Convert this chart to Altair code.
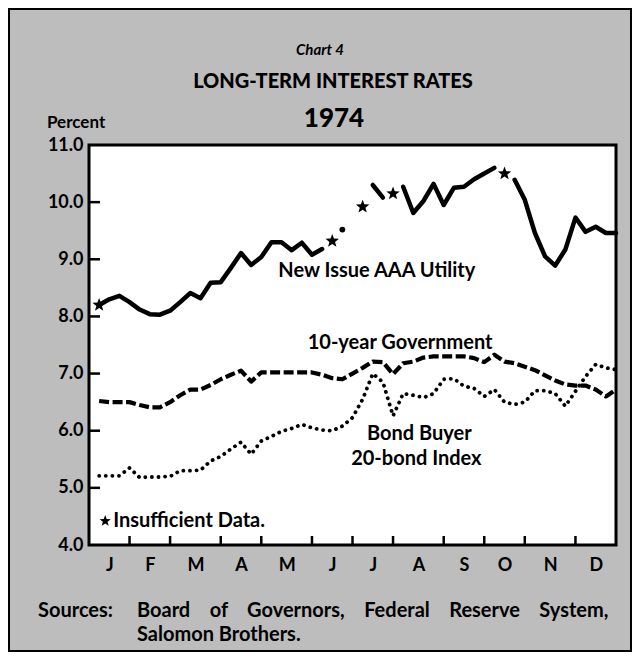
import math
import altair as alt
import pandas as pd

# ---------------- data (weekly, 1974; week 1 = Jan 4 ... week 52 = Dec 27) ----------------
weeks = list(range(1, 53))

aaa_utility = [8.20, 8.30, 8.36, 8.25, 8.12, 8.04, 8.03, 8.10, 8.25, 8.41, 8.32, 8.59, 8.60,
               8.85, 9.11, 8.90, 9.04, 9.30, 9.30, 9.16, 9.29, 9.08, 9.18,
               None, None, None, None, 10.30, 10.08, None,
               10.27, 9.81, 10.02, 10.32, 9.95, 10.25, 10.27, 10.40, 10.50, 10.60, None,
               10.39, 10.04, 9.46, 9.05, 8.89, 9.17, 9.73, 9.48, 9.57, 9.46, 9.46]

gov_10yr = [6.52, 6.50, 6.50, 6.50, 6.45, 6.41, 6.41, 6.50, 6.62, 6.72, 6.72, 6.80, 6.90,
            6.98, 7.05, 6.86, 7.02, 7.02, 7.02, 7.02, 7.02, 7.02, 6.98, 6.92, 6.90, 7.00,
            7.10, 7.21, 7.20, 6.99, 7.18, 7.21, 7.28, 7.30, 7.30, 7.30, 7.30, 7.27, 7.20,
            7.33, 7.21, 7.18, 7.12, 7.06, 6.97, 6.88, 6.81, 6.79, 6.79, 6.72, 6.60, 6.72]

bond_buyer = [5.21, 5.21, 5.21, 5.35, 5.18, 5.19, 5.19, 5.20, 5.30, 5.30, 5.31, 5.47, 5.55,
              5.68, 5.80, 5.59, 5.82, 5.90, 5.99, 6.04, 6.11, 6.05, 6.01, 6.00, 6.08, 6.23,
              6.55, 7.00, 6.85, 6.26, 6.65, 6.62, 6.58, 6.65, 6.90, 6.91, 6.78, 6.74, 6.60,
              6.72, 6.50, 6.46, 6.50, 6.70, 6.70, 6.65, 6.43, 6.69, 6.95, 7.16, 7.10, 7.07]

star_weeks = [1, 24, 27, 30, 41]
star_values = [8.20, 9.32, 9.92, 10.15, 10.50]
dot_weeks = [25]
dot_values = [9.52]

month_letters = ["J", "F", "M", "A", "M", "J", "J", "A", "S", "O", "N", "D"]
month_bounds = [0, 4, 8, 13, 17, 22, 26, 30, 35, 39, 43, 48, 52]
y_ticks = [4, 5, 6, 7, 8, 9, 10, 11]

ann_text = ["New Issue AAA Utility", "10-year Government", "Bond Buyer", "20-bond Index"]
ann_week = [28.4, 30.7, 32.6, 32.3]
ann_rate = [8.79, 7.53, 5.95, 5.50]

legend_week = [1.6]
legend_rate = [4.42]
legend_text = ["Insufficient Data."]

# ---------------- derived tables ----------------
aaa_rows, seg = [], 0
for w, v in zip(weeks, aaa_utility):
    if v is None:
        seg += 1
        continue
    aaa_rows.append({"week": w, "rate": v, "seg": seg})
aaa_df = pd.DataFrame(aaa_rows)
gov_df = pd.DataFrame({"week": weeks, "rate": gov_10yr})
bb_df = pd.DataFrame({"week": weeks, "rate": bond_buyer})
star_df = pd.DataFrame({"week": star_weeks, "rate": star_values})
dot_df = pd.DataFrame({"week": dot_weeks, "rate": dot_values})
ann_df = pd.DataFrame({"week": ann_week, "rate": ann_rate, "label": ann_text})
legend_df = pd.DataFrame({"week": legend_week, "rate": legend_rate, "label": legend_text})

mids = [(a + b) / 2 for a, b in zip(month_bounds[:-1], month_bounds[1:])]
inner = month_bounds[1:-1]
xtick_df = pd.DataFrame({"week": inner})
ytick_df = pd.DataFrame({"rate": y_ticks[1:-1]})

mids_js = "[" + ",".join(repr(float(m)) for m in mids) + "]"
letters_js = "[" + ",".join("'" + l + "'" for l in month_letters) + "]"
label_expr = f"indexof({mids_js}, datum.value) >= 0 ? {letters_js}[indexof({mids_js}, datum.value)] : ''"

# five-pointed star symbol path in the [-1, 1] box
pts = []
for k in range(10):
    r = 1.0 if k % 2 == 0 else 0.42
    a = math.radians(-90 + 36 * k)
    pts.append(f"{r * math.cos(a):.3f},{r * math.sin(a):.3f}")
STAR = "M" + " L".join(pts) + " Z"

FONT = "Lato"
W, H = 527, 400

x_scale = alt.Scale(domain=[0, 52], nice=False, zero=False)
y_scale = alt.Scale(domain=[4, 11], nice=False, zero=False)

x_axis = alt.Axis(values=mids, labelExpr=label_expr, title=None, grid=False, domain=False,
                  ticks=False, labelPadding=11, labelFont=FONT, labelFontSize=18,
                  labelFontWeight="bold", labelColor="black", labelOverlap=False, labelFlush=False)
y_axis = alt.Axis(values=y_ticks, format=".1f", title=None, grid=False, domain=False,
                  ticks=False, labelPadding=6, labelFont=FONT, labelFontSize=18,
                  labelFontWeight="bold", labelColor="black", labelBaseline="middle")

X = alt.X("week:Q", scale=x_scale, axis=x_axis)
Y = alt.Y("rate:Q", scale=y_scale, axis=y_axis)

aaa_line = alt.Chart(aaa_df).mark_line(color="black", strokeWidth=4.5, strokeCap="round",
                                       strokeJoin="round").encode(x=X, y=Y, detail="seg:N")
gov_line = alt.Chart(gov_df).mark_line(color="black", strokeWidth=4.2, strokeDash=[10, 3.5],
                                       strokeJoin="round").encode(x=X, y=Y)
bb_line = alt.Chart(bb_df).mark_line(color="black", strokeWidth=3.8, strokeDash=[0.1, 6.5],
                                     strokeCap="round").encode(x=X, y=Y)
stars = alt.Chart(star_df).mark_point(shape=STAR, filled=True, size=200, color="black",
                                      opacity=1).encode(x=X, y=Y)
dots = alt.Chart(dot_df).mark_point(shape="circle", filled=True, size=34, color="black",
                                    opacity=1).encode(x=X, y=Y)
ann = alt.Chart(ann_df).mark_text(font=FONT, fontSize=20, fontWeight="bold", color="black",
                                  align="center", baseline="middle").encode(x=X, y=Y, text="label:N")
leg_star = alt.Chart(legend_df).mark_point(shape=STAR, filled=True, size=140, color="black",
                                           opacity=1).encode(x=X, y=Y)
leg_text = alt.Chart(legend_df).mark_text(font=FONT, fontSize=20, fontWeight="bold", color="black",
                                          align="left", baseline="middle", dx=8).encode(
    x=X, y=Y, text="label:N")

# inward ticks on the bottom and left frame
xticks = alt.Chart(xtick_df).mark_rule(color="black", strokeWidth=2.5).encode(
    x=X, y=alt.value(H), y2=alt.value(H - 9))
yticks = alt.Chart(ytick_df).mark_rule(color="black", strokeWidth=2.5).encode(
    y=Y, x=alt.value(0), x2=alt.value(11))

# thin black frame round the whole card
frame = alt.Chart(pd.DataFrame({"k": [0]})).mark_rect(fill=None, stroke="black", strokeWidth=2).encode(
    x=alt.value(-80), x2=alt.value(W + 15), y=alt.value(-136), y2=alt.value(H + 106))


def label(text, x, y, size, weight="bold", align="center", style="normal"):
    return alt.Chart(pd.DataFrame({"t": [text]})).mark_text(
        font=FONT, fontSize=size, fontWeight=weight, fontStyle=style, color="black",
        align=align, baseline="middle").encode(x=alt.value(x), y=alt.value(y), text="t:N")


NB = "\u00a0"
GAP = NB * 4
titles = [
    label("Chart 4", 231, -95, 15, style="italic"),
    label("LONG-TERM INTEREST RATES", 244, -63, 20, weight=900),
    label("1974", 245, -26, 26, weight=900),
    label("Percent", -42, -22, 17, align="left"),
    label("Sources:", -51, 466, 20, align="left"),
    label("Board" + GAP + "of" + GAP + "Governors," + GAP + "Federal" + GAP + "Reserve" + GAP + "System,",
          48, 466, 20, align="left"),
    label("Salomon Brothers.", 48, 490, 20, align="left"),
]

chart = alt.layer(frame, aaa_line, gov_line, bb_line, stars, dots, ann, leg_star, leg_text,
                  xticks, yticks, *titles).properties(
    width=W, height=H, background="#bdbdbd",
    padding={"left": 81, "top": 137, "right": 16, "bottom": 107},
    autosize=alt.AutoSizeParams(type="none"),
).configure_view(stroke="black", strokeWidth=3, fill="white")

chart.save("out.html", embed_options={"renderer": "svg", "actions": False})
